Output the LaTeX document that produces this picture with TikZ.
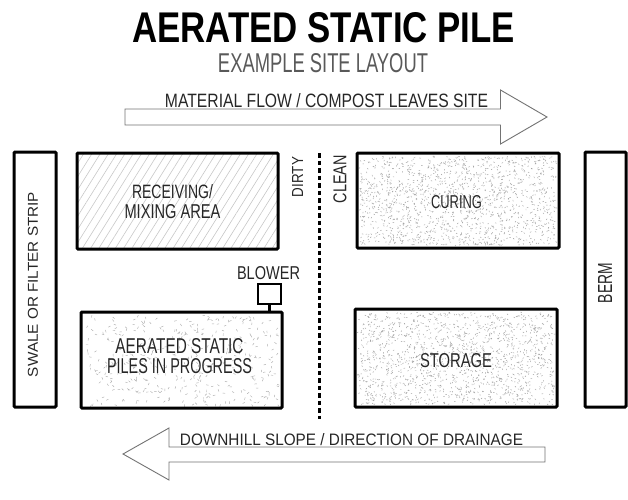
\documentclass[tikz,border=0pt]{standalone}
\usepackage{fontspec}
\setmainfont{Liberation Sans}
\usepackage{graphicx}
\usetikzlibrary{patterns.meta}
\newcommand{\fitx}[3]{\resizebox{#1pt}{#2pt}{#3}}
\newcommand{\speckle}[6]{%
  \foreach \k in {1,...,#5}{%
    \pgfmathsetmacro\px{#1+rnd*(#3-#1)}%
    \pgfmathsetmacro\py{#2+rnd*(#4-#2)}%
    \pgfmathsetmacro\pa{rnd*180}%
    \draw[speck] (\px,\py) -- ++(\pa:#6);
  }}
\begin{document}
\begin{tikzpicture}[x=1pt,y=-1pt,
  zone/.style={draw=black,line width=3pt,rounded corners=1pt,inner sep=0pt},
  lbl/.style={inner sep=0pt,text=black!85},
  flowarrow/.style={draw=black!55,line width=0.9pt,fill=white,line join=miter},
  speck/.style={draw=black!38,line width=0.45pt},
  divider/.style={draw=black,line width=3pt,dash pattern=on 4.5pt off 3pt}]
\useasboundingbox (0,0) rectangle (628,499);

% titles
\node[lbl,anchor=base,text=black] (title) at (323.5,42) {\fitx{383}{30}{\bfseries AERATED STATIC PILE}};
\node[lbl,anchor=base,text=black!65] (subtitle) at (323,72) {\fitx{210}{19}{EXAMPLE SITE LAYOUT}};

% flow arrows
\draw[flowarrow] (125,109) -- (500.5,109) -- (500.5,90) -- (547,117) -- (500.5,144) -- (500.5,125) -- (125,125) -- cycle;
\node[lbl,anchor=base] (flowtxt) at (326.5,107) {\fitx{323}{14}{MATERIAL FLOW / COMPOST LEAVES SITE}};
\draw[flowarrow] (545,447) -- (169,447) -- (169,428) -- (123,454) -- (169,480) -- (169,462) -- (545,462) -- cycle;
\node[lbl,anchor=base] (drainage) at (351.5,445) {\fitx{343}{12}{DOWNHILL SLOPE / DIRECTION OF DRAINAGE}};

% stipple textures
\pgfmathsetseed{7}
\speckle{360}{156}{556}{245}{1500}{1.4}
\speckle{358}{312}{554}{404}{1500}{1.4}
\begin{scope}[speck/.append style={draw=black!32}]
\speckle{84}{315}{279}{405}{420}{2.4}
\end{scope}

% side strips
\node[zone,minimum width=42pt,minimum height=255pt] (swale) at (35,279.5) {};
\node[zone,minimum width=41pt,minimum height=255pt] (berm) at (605.5,279.5) {};
\node[lbl,rotate=90] (swaletxt) at (33,284.5) {\fitx{185}{10}{SWALE OR FILTER STRIP}};
\node[lbl,rotate=90] (bermtxt) at (605,283) {\fitx{40}{14}{BERM}};

% zones
\node[zone,minimum width=201pt,minimum height=96pt,
  pattern={Lines[angle=58,distance=7pt,line width=0.6pt]},pattern color=black!22] (recv) at (177.5,201) {};
\node[zone,minimum width=201pt,minimum height=96pt] (asp) at (181.5,360) {};
\node[zone,minimum width=202pt,minimum height=95pt] (curing) at (458,200.5) {};
\node[zone,minimum width=202pt,minimum height=98pt] (storage) at (456,358) {};

\node[lbl,anchor=base,align=center,font=\fontsize{14pt}{20pt}\selectfont] (recvtxt) at (172.5,218)
  {\fitx{81}{14}{RECEIVING/}\\\fitx{96}{14}{MIXING AREA}};
\node[lbl,anchor=base,align=center,font=\fontsize{15pt}{20pt}\selectfont] (asptxt) at (179.5,373)
  {\fitx{128}{15}{AERATED STATIC}\\\fitx{145}{15}{PILES IN PROGRESS}};
\node[lbl,anchor=base] (curingtxt) at (456.5,208) {\fitx{51}{13}{CURING}};
\node[lbl,anchor=base] (storagetxt) at (456,367) {\fitx{72}{14}{STORAGE}};

% blower
\node[draw=black,line width=2.5pt,minimum width=23pt,minimum height=20pt,inner sep=0pt] (blower) at (269.5,294) {};
\node[lbl,anchor=base] (blowertxt) at (268.5,279) {\fitx{63}{13}{BLOWER}};
\draw[line width=2.5pt] (blower.south) -- (blower.south |- asp.north);

% dirty / clean divider
\coordinate (dtop) at (319,153);
\coordinate (dbot) at (319,419);
\draw[divider] (dtop) -- (dbot);
\node[lbl,rotate=90] (dirty) at (297.5,177) {\fitx{40}{11}{DIRTY}};
\node[lbl,rotate=90] (clean) at (340,179) {\fitx{48}{13}{CLEAN}};
\end{tikzpicture}
\end{document}
